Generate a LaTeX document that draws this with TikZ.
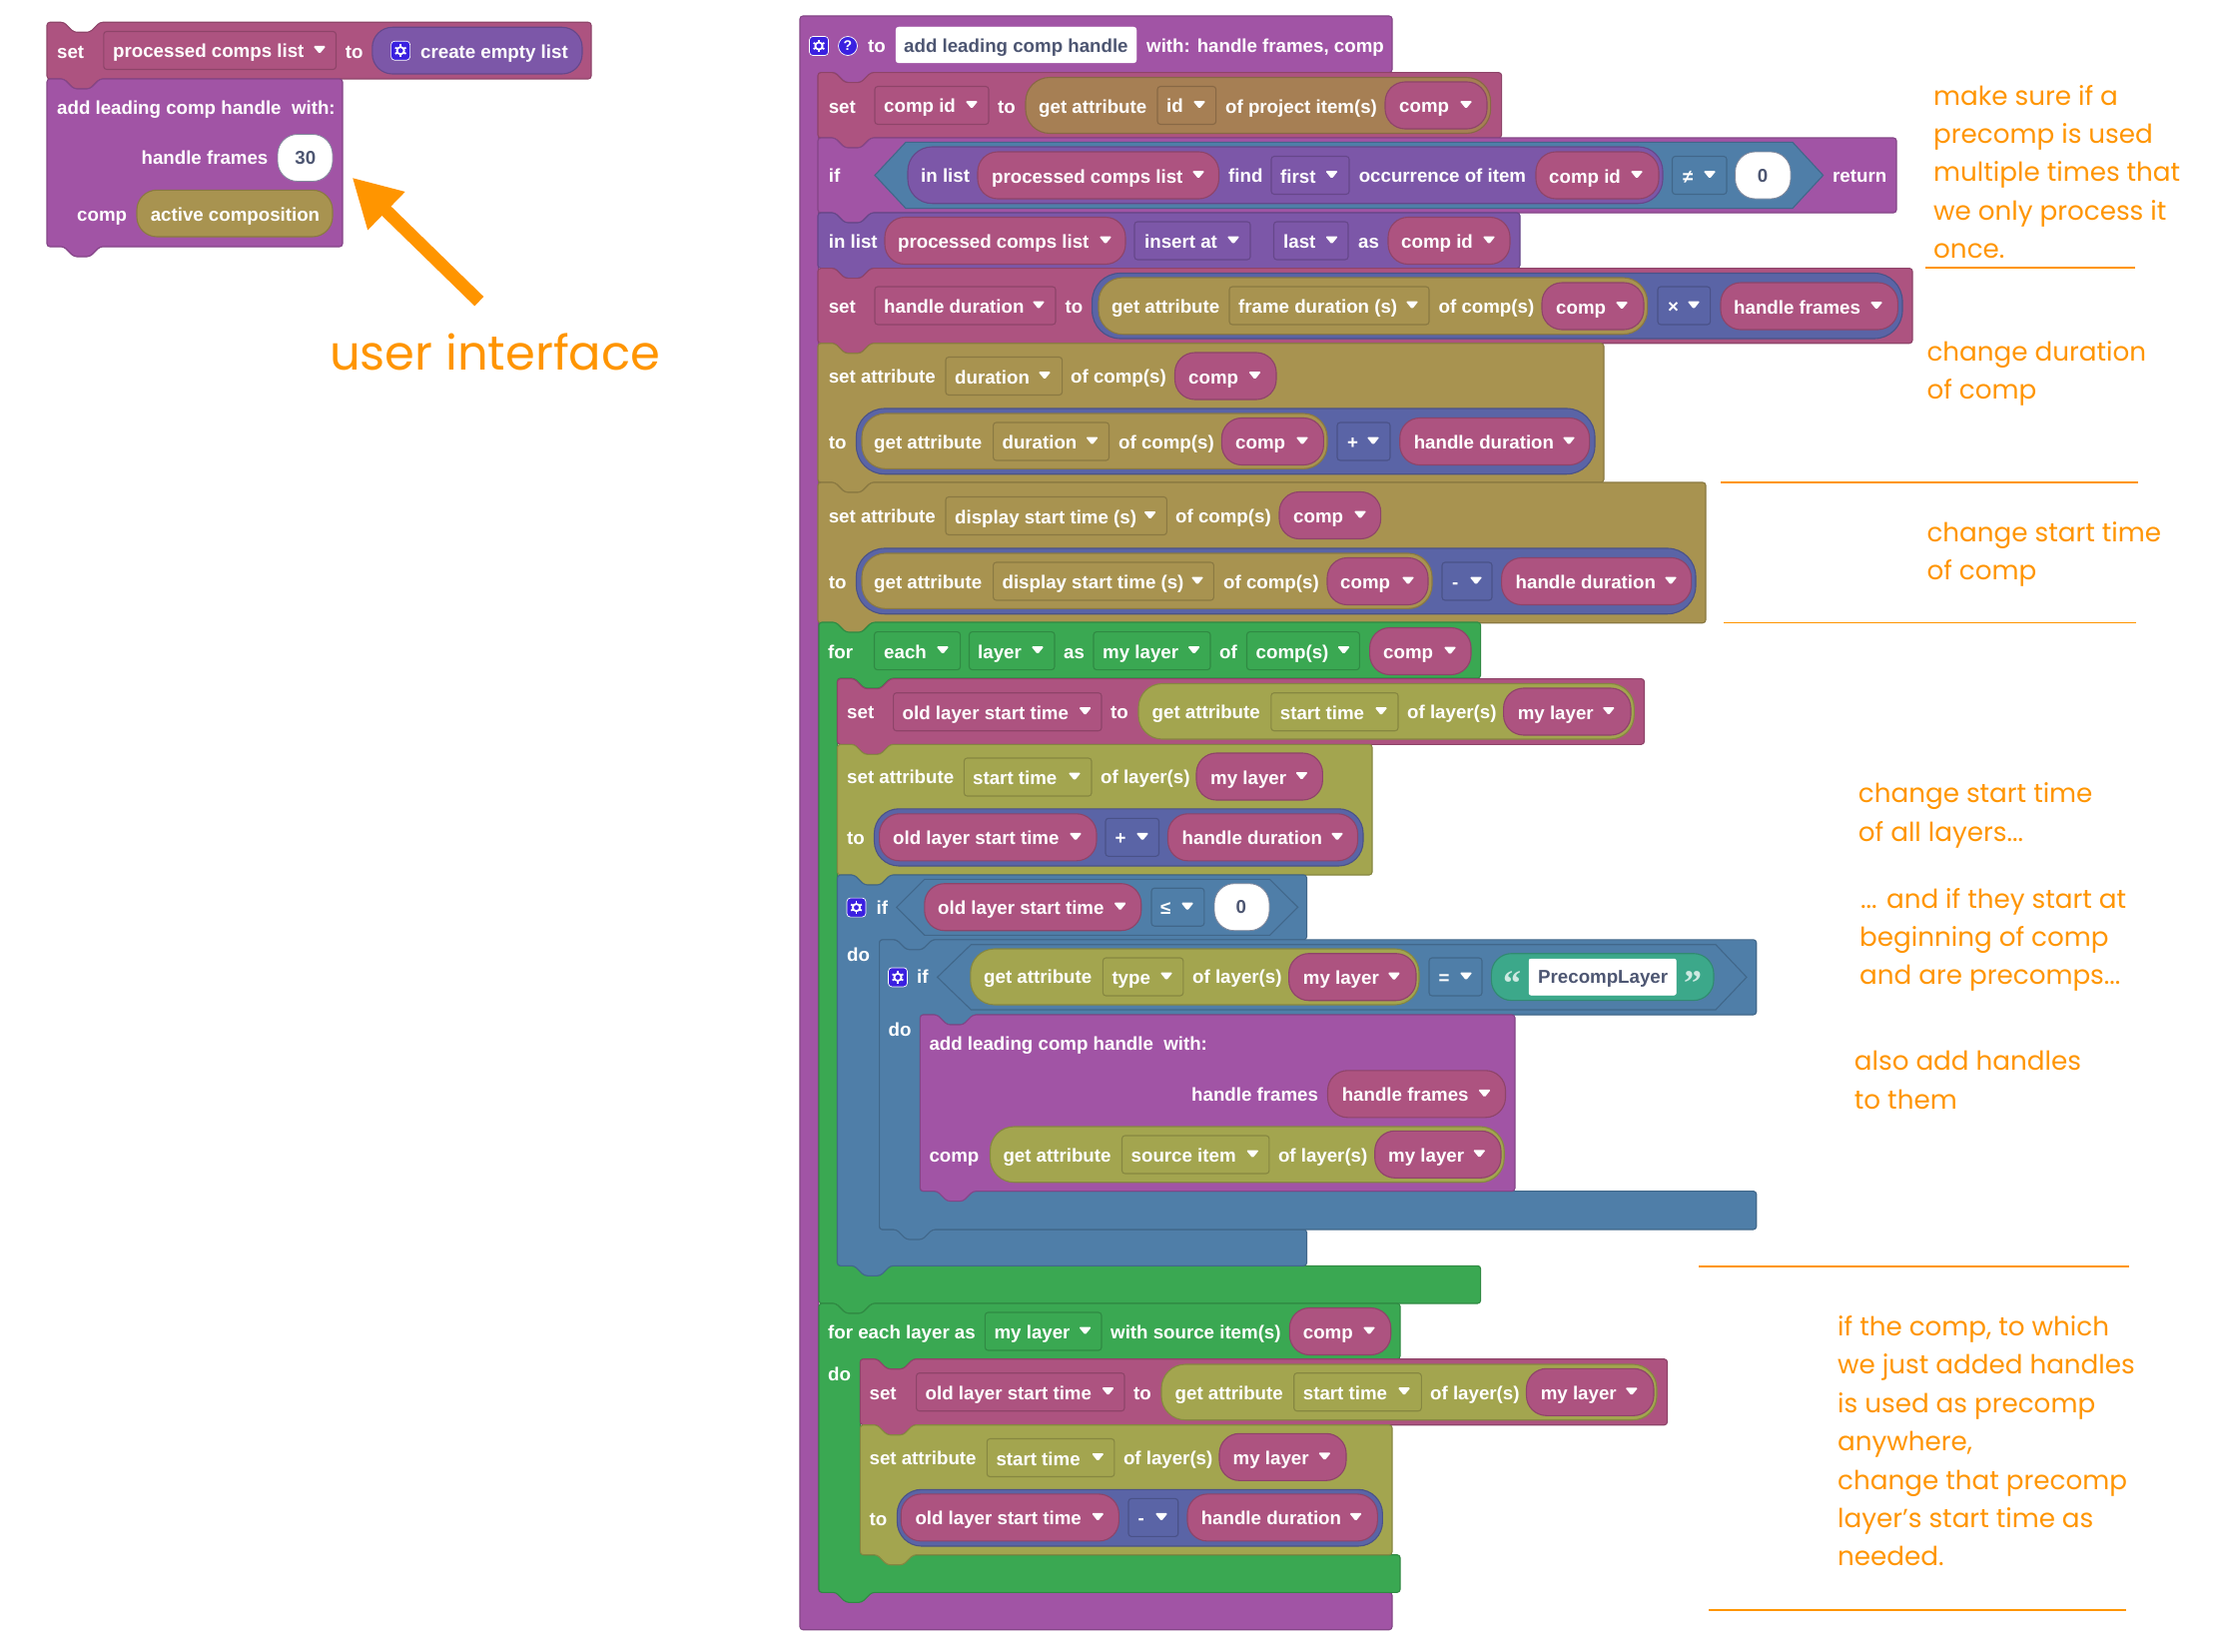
\documentclass[tikz,border=0pt]{standalone}
\usepackage{fontspec}
\usetikzlibrary{arrows.meta}
\setmainfont{Liberation Sans}
\newfontfamily\annof{Poppins}
\newfontfamily\quotef{Liberation Serif}
\definecolor{cFn}{HTML}{A154A5}
\definecolor{cVar}{HTML}{AD5380}
\definecolor{cList}{HTML}{7C57A8}
\definecolor{cMath}{HTML}{5A64A6}
\definecolor{cLogic}{HTML}{4F7EA8}
\definecolor{cLoop}{HTML}{3AA852}
\definecolor{cTan}{HTML}{A89350}
\definecolor{cBrown}{HTML}{A67F54}
\definecolor{cOlive}{HTML}{A3A54F}
\definecolor{cText}{HTML}{3CA88A}
\definecolor{cIcon}{HTML}{3A20E0}
\definecolor{cOr}{HTML}{FF9500}
\definecolor{cDark}{HTML}{4D5672}
\newcount\bkN
\tikzset{
 blk/.style={fill=#1,draw=#1!82!black,line width=1.1pt},
 lab/.style={anchor=base west,inner sep=0pt,text=white,font=\fontsize{18.7}{22}\selectfont\bfseries},
 labc/.style={anchor=base,inner sep=0pt,text=cDark,font=\fontsize{18.7}{22}\selectfont\bfseries},
 labd/.style={anchor=base west,inner sep=0pt,text=cDark,font=\fontsize{18.7}{22}\selectfont\bfseries},
 ann/.style={anchor=base west,inner sep=0pt,text=cOr,font=\annof\fontsize{26.2}{30}\selectfont},
 rulel/.style={draw=cOr,line width=1.8pt}
}
\newcommand\bkNt[2]{-- ({#1+17},#2) -- ({#1+27},{#2+10}) -- ({#1+43},{#2+10}) -- ({#1+53},#2)}
\newcommand\bkBp[2]{-- ({#1+53},#2) -- ({#1+43},{#2+10}) -- ({#1+27},{#2+10}) -- ({#1+17},#2)}
% plain stack block: col x1 y1 x2 y2
\newcommand\bkS[5]{\draw[blk=#1,rounded corners=3pt] (#2,#3) \bkNt{#2}{#3} -- (#4,#3) -- (#4,#5) \bkBp{#2}{#5} -- (#2,#5) -- cycle;}
% C block: col x1 y1 x2 yh xi yf yb flag
\newcommand\bkC[9]{%
 \ifnum#9=1 \def\bkTp{\bkNt{#2}{#3}}\def\bkBt{\bkBp{#2}{#8}}\else\def\bkTp{}\def\bkBt{}\fi
 \draw[blk=#1,rounded corners=3pt] (#2,#3) \bkTp -- (#4,#3) -- (#4,#5) \bkBp{#6}{#5} -- (#6,#5) -- (#6,#7) -- (#4,#7) -- (#4,#8) \bkBt -- (#2,#8) -- cycle;}
% text
\newcommand\bkT[3]{\global\advance\bkN by 1 \node[lab] (t\the\bkN) at (#1,{#2+6.5}) {#3};}
\newcommand\bkTc[3]{\global\advance\bkN by 1 \node[labc] (t\the\bkN) at (#1,{#2+6.5}) {#3};}
\newcommand\bkTd[3]{\global\advance\bkN by 1 \node[labd] (t\the\bkN) at (#1,{#2+6.5}) {#3};}
\newcommand\bkTri[2]{\fill[white,rounded corners=1.5pt] ({#1-6.5},{#2-4}) -- ({#1+6.5},{#2-4}) -- (#1,{#2+4}) -- cycle;}
% dropdown: col x1 x2 cy tx tri text
\newcommand\bkD[7]{\draw[blk=#1,rounded corners=3pt] (#2,{#4-19}) rectangle (#3,{#4+19}); \bkT{#5}{#4+1}{#7}\bkTri{#6}{#4-.5}}
% var pill: x1 x2 cy tx tri text
\newcommand\bkV[6]{\draw[blk=cVar,rounded corners=20pt] (#1,{#3-23.5}) rectangle (#2,{#3+23.5}); \bkT{#4}{#3+1}{#6}\bkTri{#5}{#3-.5}}
% bare pill: col x1 x2 y1 y2
\newcommand\bkO[5]{\draw[blk=#1,rounded corners={(#5-#4)*0.43}] (#2,#4) rectangle (#3,#5);}
% white number pill: x1 x2 cy cx text
\newcommand\bkW[5]{\draw[fill=white,draw=cDark!70,line width=.8pt,rounded corners=20pt] (#1,{#3-23.5}) rectangle (#2,{#3+23.5}); \bkTc{#4}{#3}{#5}}
% hex: x1 xf1 xf2 x2 y1 y2
\newcommand\bkH[6]{\draw[blk=cLogic] (#1,{(#5+#6)/2}) -- (#2,#5) -- (#3,#5) -- (#4,{(#5+#6)/2}) -- (#3,#6) -- (#2,#6) -- cycle;}
% gear icon
\newcommand\bkG[2]{\draw[fill=cIcon,draw=white,line width=.7pt,rounded corners=3.5pt] (#1,{#2-9.5}) rectangle ({#1+19},{#2+9.5});
 \draw[white,line width=1.8pt] ({#1+9.5},#2) circle (3.6pt);
 \foreach \bkA in {30,90,...,330} \draw[white,line width=1.8pt] ({#1+9.5+3.6*cos(\bkA)},{#2+3.6*sin(\bkA)}) -- ({#1+9.5+6.2*cos(\bkA)},{#2+6.2*sin(\bkA)});}
\newcommand\bkAn[3]{\global\advance\bkN by 1 \node[ann] (a\the\bkN) at (#1,#2) {#3};}
\begin{document}
\begin{tikzpicture}[x=1pt,y=-1pt]
\useasboundingbox (0,0) rectangle (2220,1654);
\fill[white] (0,0) rectangle (2220,1654);
%---------- left user-interface blocks
\bkS{cVar}{47}{22.3}{592}{79}
\bkT{57}{51.7}{set}
\bkD{cVar}{103.8}{336.5}{50.5}{113}{320}{processed comps list}
\bkT{345.7}{51.7}{to}
\bkO{cList}{372.8}{583}{27.3}{74}
\bkG{391.6}{50.7}
\bkT{421}{51.7}{create empty list}
\draw[blk=cFn,rounded corners=3pt] (47,79) \bkNt{47}{79} -- (343,79) -- (343,247) \bkBp{47}{247} -- (47,247) -- cycle;
\bkT{57}{107.7}{add leading comp handle\ \ with:}
\bkT{141.4}{158.3}{handle frames}
\bkW{278}{333}{158}{305.8}{30}
\bkT{77}{215}{comp}
\bkO{cTan}{137}{333}{190.3}{237}
\bkT{150.6}{214.5}{active composition}
\coordinate (arrowtail) at (479.8,301.7);
\coordinate (arrowtip) at (352.6,177.7);
\draw[draw=cOr,line width=13pt,-{Triangle[length=48pt,width=50pt]}] (arrowtail) -- (arrowtip);
\global\advance\bkN by 1
\node[ann,font=\annof\fontsize{48}{52}\selectfont] (userif) at (330,370.7) {user interface};
%---------- main function block
\bkC{cFn}{801}{16}{1394}{72.6}{819.5}{1594.3}{1631.7}{0}
\bkG{810.5}{46}
\draw[fill=cIcon,draw=white,line width=.7pt] (849,46) circle (9.5pt);
\global\advance\bkN by 1
\node[inner sep=0pt,text=white,font=\fontsize{14}{16}\selectfont\bfseries] (help) at (849,46) {?};
\bkT{869}{46}{to}
\draw[fill=white,draw=white,rounded corners=3pt] (897,27) rectangle (1138,63);
\bkTd{905}{46}{add leading comp handle}
\bkT{1148}{46}{with: handle frames, comp}
%---------- set comp id
\bkS{cVar}{819}{72.6}{1503.6}{138}
\bkT{829.6}{107}{set}
\bkD{cVar}{876}{990}{105.5}{885}{973}{comp id}
\bkT{999}{107}{to}
\bkO{cBrown}{1027}{1492.6}{77.5}{133.5}
\bkT{1040}{107}{get attribute}
\bkD{cBrown}{1159}{1217.6}{105.5}{1168}{1201}{id}
\bkT{1227}{107}{of project item(s)}
\bkV{1387}{1489}{105.5}{1401}{1468}{comp}
%---------- if return
\bkS{cFn}{819}{138}{1899}{213}
\bkT{829.6}{176.3}{if}
\bkH{876}{907}{1795}{1825.6}{142.4}{208.6}
\bkO{cList}{909}{1665}{147}{203.7}
\bkT{922}{176.3}{in list}
\bkV{979}{1220.5}{175.5}{993}{1200}{processed comps list}
\bkT{1230}{176.3}{find}
\bkD{cList}{1273}{1351}{175.5}{1282}{1333.5}{first}
\bkT{1360.6}{176.3}{occurrence of item}
\bkV{1538}{1661}{175.5}{1551}{1639}{comp id}
\bkD{cLogic}{1674.5}{1729}{175.5}{1685}{1712}{≠}
\bkW{1737.6}{1793}{175.5}{1765}{0}
\bkT{1835}{176.3}{return}
%---------- in list insert
\bkS{cList}{819}{213}{1522}{268.6}
\bkT{829.6}{241.6}{in list}
\bkV{886}{1127}{241}{899}{1107}{processed comps list}
\bkD{cList}{1136}{1252}{241}{1146}{1235}{insert at}
\bkD{cList}{1275.5}{1350}{241}{1285}{1333.5}{last}
\bkT{1360}{241.6}{as}
\bkV{1390}{1512}{241}{1403}{1491}{comp id}
%---------- set handle duration
\bkS{cVar}{819}{268.6}{1915}{343.7}
\bkT{829.6}{307}{set}
\bkD{cVar}{876}{1057}{306}{885}{1040}{handle duration}
\bkT{1066.5}{307}{to}
\bkO{cMath}{1093.6}{1905}{273.5}{339}
\bkO{cTan}{1100}{1649.6}{278}{334.7}
\bkT{1113}{307}{get attribute}
\bkD{cTan}{1231}{1431}{306}{1240}{1414}{frame duration (s)}
\bkT{1440.5}{307}{of comp(s)}
\bkV{1544}{1646}{306.5}{1558}{1624}{comp}
\bkD{cMath}{1660}{1712.6}{306}{1670}{1696}{×}
\bkV{1723}{1900.4}{306.5}{1736}{1879}{handle frames}
%---------- set attribute duration
\bkS{cTan}{819}{343.7}{1606}{483}
\bkT{829.6}{377}{set attribute}
\bkD{cTan}{947}{1063.6}{376.5}{956}{1046}{duration}
\bkT{1072}{377}{of comp(s)}
\bkV{1176.5}{1278}{376.5}{1190}{1256.5}{comp}
\bkT{829.6}{443}{to}
\bkO{cMath}{857.5}{1597}{409}{474.7}
\bkO{cTan}{863}{1329}{414}{469.4}
\bkT{875}{443}{get attribute}
\bkD{cTan}{994.6}{1110.5}{442}{1003.4}{1093.6}{duration}
\bkT{1120}{443}{of comp(s)}
\bkV{1223.4}{1325.4}{442}{1237}{1304}{comp}
\bkD{cMath}{1339}{1392}{442}{1349}{1375}{+}
\bkV{1401.7}{1591.6}{442}{1415.6}{1571}{handle duration}
%---------- set attribute display start
\bkS{cTan}{819}{483}{1708}{623.7}
\bkT{829.6}{516.7}{set attribute}
\bkD{cTan}{947}{1168.4}{516.5}{956}{1151.6}{display start time (s)}
\bkT{1177}{516.7}{of comp(s)}
\bkV{1281}{1382.6}{516}{1295}{1362}{comp}
\bkT{829.6}{583}{to}
\bkO{cMath}{857.5}{1698}{549}{614.7}
\bkO{cTan}{863}{1434}{554}{609.4}
\bkT{875}{583}{get attribute}
\bkD{cTan}{994.6}{1215.4}{582}{1003.4}{1199}{display start time (s)}
\bkT{1225}{583}{of comp(s)}
\bkV{1329}{1430}{582}{1342}{1410}{comp}
\bkD{cMath}{1444}{1494}{582}{1454}{1478}{-}
\bkV{1503.6}{1693.6}{582}{1517.5}{1673}{handle duration}
%---------- for each layer
\bkC{cLoop}{820}{623}{1482.6}{679}{838.5}{1267.3}{1305}{1}
\bkT{829}{652.6}{for}
\bkD{cLoop}{875.5}{961.6}{651.6}{885}{944}{each}
\bkD{cLoop}{970.5}{1056}{651.6}{979}{1039}{layer}
\bkT{1065}{652.6}{as}
\bkD{cLoop}{1095}{1212}{651.6}{1104}{1195.6}{my layer}
\bkT{1221}{652.6}{of}
\bkD{cLoop}{1248.5}{1361.4}{651.6}{1257.5}{1345.5}{comp(s)}
\bkV{1371.6}{1473}{652}{1385}{1452}{comp}
%---------- set old layer start time
\bkS{cVar}{838.5}{679.6}{1646.5}{745.3}
\bkT{848}{713}{set}
\bkD{cVar}{894.6}{1103}{712.7}{903.5}{1086.6}{old layer start time}
\bkT{1112}{713}{to}
\bkO{cOlive}{1140}{1636.3}{684.5}{740}
\bkT{1153.5}{713}{get attribute}
\bkD{cOlive}{1272.8}{1400}{712.7}{1281.7}{1383}{start time}
\bkT{1409}{713}{of layer(s)}
\bkV{1505.6}{1633}{712.5}{1519.6}{1610.8}{my layer}
%---------- set attribute start time
\bkS{cOlive}{838.5}{745.3}{1374}{876}
\bkT{848}{778.4}{set attribute}
\bkD{cOlive}{965.4}{1093}{778}{974}{1076}{start time}
\bkT{1102}{778.4}{of layer(s)}
\bkV{1198}{1324.4}{777.5}{1212}{1303.4}{my layer}
\bkT{848}{838.8}{to}
\bkO{cMath}{875.5}{1365}{809.8}{867}
\bkV{880.6}{1098}{838.3}{894}{1077}{old layer start time}
\bkD{cMath}{1107}{1160.5}{838.3}{1116.5}{1144}{+}
\bkV{1169.5}{1359.5}{838.3}{1183.5}{1339}{handle duration}
%---------- outer if
\bkC{cLogic}{838.5}{876}{1308.5}{940.8}{880.6}{1231}{1267.3}{1}
\bkG{848}{908.6}
\bkT{877.4}{908.6}{if}
\bkH{897.8}{925.8}{1271.5}{1299.6}{880.4}{936.3}
\bkV{925.8}{1142.7}{908.2}{939}{1121.6}{old layer start time}
\bkD{cLogic}{1153}{1205.8}{908.2}{1161.8}{1189}{≤}
\bkW{1216}{1271}{908.2}{1242.8}{0}
\bkT{848}{956}{do}
%---------- inner if
\bkC{cLogic}{880.6}{940.8}{1758.7}{1016}{921.4}{1192.6}{1231}{1}
\bkG{889.5}{978.4}
\bkT{918}{978.4}{if}
\bkH{938.6}{972.4}{1718}{1749}{945.7}{1011}
\bkO{cOlive}{971.8}{1421}{950}{1006}
\bkT{985}{978.4}{get attribute}
\bkD{cOlive}{1104.4}{1184.8}{978}{1113.3}{1168}{type}
\bkT{1194}{978.4}{of layer(s)}
\bkV{1290.6}{1418}{978.2}{1304.7}{1395.9}{my layer}
\bkD{cLogic}{1431}{1484}{978}{1440.5}{1468}{=}
\bkO{cText}{1493.4}{1716}{954.7}{1001.6}
\global\advance\bkN by 1
\node[anchor=base west,inner sep=0pt,text=white!75!cText,font=\quotef\fontsize{36}{38}\selectfont\bfseries] (qa) at (1505,996) {“};
\global\advance\bkN by 1
\node[anchor=base west,inner sep=0pt,text=white!75!cText,font=\quotef\fontsize{36}{38}\selectfont\bfseries] (qb) at (1686,996) {”};
\draw[fill=white,draw=white,rounded corners=2pt] (1531,960) rectangle (1678.4,996.3);
\bkTd{1540}{978.4}{PrecompLayer}
\bkT{889.5}{1030.6}{do}
%---------- add call
\bkS{cFn}{921.4}{1016}{1517}{1192.6}
\bkT{930.3}{1045}{add leading comp handle\ \ with:}
\bkT{1193}{1095.5}{handle frames}
\bkV{1329.5}{1507.5}{1095.3}{1343.6}{1486.5}{handle frames}
\bkT{930.3}{1156.7}{comp}
\bkO{cOlive}{991.5}{1506.2}{1128}{1183.7}
\bkT{1004.3}{1156.7}{get attribute}
\bkD{cOlive}{1123.5}{1270.9}{1156}{1132.5}{1254.3}{source item}
\bkT{1279.8}{1156.7}{of layer(s)}
\bkV{1376.7}{1503}{1155.8}{1390}{1481.3}{my layer}
%---------- for each layer with source item
\bkC{cLoop}{820}{1305}{1402}{1360.7}{861.4}{1556.7}{1594.3}{1}
\bkT{829}{1334}{for each layer as}
\bkD{cLoop}{986.4}{1103}{1333}{995.4}{1086.6}{my layer}
\bkT{1112}{1334}{with source item(s)}
\bkV{1291.3}{1392.7}{1333}{1304.7}{1371}{comp}
\bkT{829}{1376}{do}
\bkS{cVar}{861.4}{1360.7}{1669.5}{1426.7}
\bkT{870.4}{1395}{set}
\bkD{cVar}{917.6}{1126}{1393.7}{926.5}{1109.5}{old layer start time}
\bkT{1135}{1395}{to}
\bkO{cOlive}{1163}{1659}{1366}{1421.7}
\bkT{1176.5}{1395}{get attribute}
\bkD{cOlive}{1295.7}{1423.3}{1393.7}{1304.7}{1406}{start time}
\bkT{1432}{1395}{of layer(s)}
\bkV{1528.5}{1656}{1393.8}{1542.6}{1633.8}{my layer}
\bkS{cOlive}{861.4}{1426.7}{1394}{1556.7}
\bkT{870.4}{1460}{set attribute}
\bkD{cOlive}{988.3}{1115.9}{1459.5}{997.3}{1099.3}{start time}
\bkT{1124.8}{1460}{of layer(s)}
\bkV{1221}{1348}{1458.8}{1234.5}{1326.4}{my layer}
\bkT{870.4}{1520.7}{to}
\bkO{cMath}{898.4}{1384.4}{1491.3}{1548}
\bkV{902.2}{1120.4}{1519.4}{916.3}{1099.3}{old layer start time}
\bkD{cMath}{1130}{1179.7}{1519.4}{1139.5}{1163}{-}
\bkV{1189}{1379.3}{1519.4}{1202.6}{1357.6}{handle duration}
%---------- annotations
\bkAn{1936}{105}{make sure if a}
\bkAn{1936}{143.4}{precomp is used}
\bkAn{1936}{181.8}{multiple times that}
\bkAn{1936}{220.2}{we only process it}
\bkAn{1936}{258.6}{once.}
\coordinate (r1a) at (1928,267.7); \coordinate (r1b) at (2137.7,267.7);
\draw[rulel] (r1a) -- (r1b);
\bkAn{1929.3}{361}{change duration}
\bkAn{1929.3}{399}{of comp}
\coordinate (r2a) at (1723,483); \coordinate (r2b) at (2140.7,483);
\draw[rulel] (r2a) -- (r2b);
\bkAn{1929.3}{542.8}{change start time}
\bkAn{1929.3}{580.8}{of comp}
\coordinate (r3a) at (1726,623.4); \coordinate (r3b) at (2138.7,623.4);
\draw[rulel] (r3a) -- (r3b);
\bkAn{1860.7}{803.8}{change start time}
\bkAn{1860.7}{842}{of all layers...}
\bkAn{1863}{909}{... and if they start at}
\bkAn{1862}{947.4}{beginning of comp}
\bkAn{1862}{985.8}{and are precomps...}
\bkAn{1856.7}{1071.8}{also add handles}
\bkAn{1856.7}{1110}{to them}
\coordinate (r4a) at (1701,1267.9); \coordinate (r4b) at (2132,1267.9);
\draw[rulel] (r4a) -- (r4b);
\bkAn{1840}{1337.5}{if the comp, to which}
\bkAn{1840}{1375.9}{we just added handles}
\bkAn{1840}{1414.3}{is used as precomp}
\bkAn{1840}{1452.7}{anywhere,}
\bkAn{1840}{1491.1}{change that precomp}
\bkAn{1840}{1529.5}{layer’s start time as}
\bkAn{1840}{1567.9}{needed.}
\coordinate (r5a) at (1711,1612); \coordinate (r5b) at (2129,1612);
\draw[rulel] (r5a) -- (r5b);
\end{tikzpicture}
\end{document}
